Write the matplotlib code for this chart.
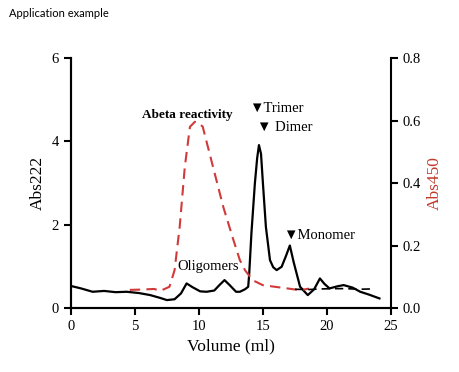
import matplotlib.pyplot as plt

# Abs222 trace (solid black)
vol_222 = [0.0, 0.8, 1.7, 2.6, 3.5, 4.35, 5.3, 6.2, 7.0, 7.5, 8.1, 8.6, 9.04, 9.5, 10.1, 10.6,
           11.2, 11.6, 12.0, 12.4, 12.9, 13.2, 13.6, 13.85, 13.93, 14.1, 14.37, 14.55, 14.69,
           14.85, 15.0, 15.23, 15.55, 15.8, 16.07, 16.46, 16.8, 17.1, 17.4, 17.9, 18.5, 19.0,
           19.45, 19.8, 20.2, 20.8, 21.3, 22.0, 22.6, 23.3, 24.1]
abs222 = [0.53, 0.47, 0.39, 0.41, 0.38, 0.39, 0.36, 0.31, 0.24, 0.19, 0.21, 0.35, 0.59, 0.50,
          0.40, 0.39, 0.42, 0.55, 0.67, 0.55, 0.39, 0.39, 0.45, 0.51, 0.83, 1.79, 2.99, 3.6, 3.91,
          3.7, 2.99, 1.95, 1.15, 0.98, 0.91, 0.99, 1.25, 1.5, 1.1, 0.51, 0.31, 0.45,
          0.71, 0.58, 0.47, 0.52, 0.55, 0.49, 0.39, 0.32, 0.23]

# Abs450 trace (Abeta reactivity, red dashed)
vol_450 = [4.6, 5.5, 6.5, 7.0, 7.7, 8.1, 8.5, 8.9, 9.3, 9.69, 10.0, 10.3, 11.1, 11.9, 12.7,
           13.2, 13.6, 14.2, 15.0, 16.85, 17.9, 18.6]
abs450 = [0.058, 0.059, 0.061, 0.055, 0.068, 0.121, 0.26, 0.452, 0.58, 0.596, 0.592, 0.58,
          0.452, 0.324, 0.217, 0.153, 0.121, 0.089, 0.073, 0.063, 0.057, 0.062]

# tail of the Abs450 trace (black dashed)
vol_tail = [17.5, 18.5, 19.5, 20.5, 21.5, 22.5, 23.4]
abs450_tail = [0.060, 0.059, 0.061, 0.062, 0.062, 0.060, 0.061]

plt.rcParams['font.family'] = ['Liberation Serif', 'DejaVu Sans']
fig = plt.figure(figsize=(4.6, 3.72), dpi=100)
ax = fig.add_axes([0.154, 0.172, 0.696, 0.672])
ax2 = ax.twinx()

ax.plot(vol_222, abs222, color='black', lw=1.6, zorder=3)
ax2.plot(vol_450, abs450, color='#d03a3a', lw=1.5, ls=(0, (5, 3)))
ax2.plot(vol_tail, abs450_tail, color='black', lw=1.2, ls=(0, (5, 3)))

ax.set_xlim(0, 25)
ax.set_ylim(0, 6)
ax2.set_ylim(0, 0.8)
ax.set_xticks([0, 5, 10, 15, 20, 25])
ax.set_yticks([0, 2, 4, 6])
ax2.set_yticks([0, 0.2, 0.4, 0.6, 0.8])
ax2.set_yticklabels(['0.0', '0.2', '0.4', '0.6', '0.8'])

for a in (ax, ax2):
    a.spines['top'].set_visible(False)
    a.spines['left'].set_linewidth(1.5)
    a.spines['right'].set_linewidth(1.5)
    a.spines['bottom'].set_linewidth(1.5)
    a.tick_params(direction='out', length=5, width=1.5, labelsize=10.5)
ax.spines['right'].set_visible(False)

ax.set_xlabel('Volume (ml)', fontsize=12.5)
ax.set_ylabel('Abs222', fontsize=12.5)
ax2.set_ylabel('Abs450', fontsize=12.5, color='#c0392b')

ax.text(9.06, 4.57, 'Abeta reactivity', fontsize=9.5, fontweight='bold', ha='center', va='baseline')
ax.text(10.7, 1.0, 'Oligomers', fontsize=10.5, ha='center', va='center')
ax.text(13.95, 4.71, '\u25bcTrimer', fontsize=10.5, ha='left', va='baseline')
ax.text(14.5, 4.26, '\u25bc Dimer', fontsize=10.5, ha='left', va='baseline')
ax.text(16.6, 1.65, '\u25bcMonomer', fontsize=10.5, ha='left', va='baseline')

fig.text(0.02, 0.965, 'Application example', fontsize=8, family='Lato', va='center')

plt.savefig('out.png')
plt.close()
